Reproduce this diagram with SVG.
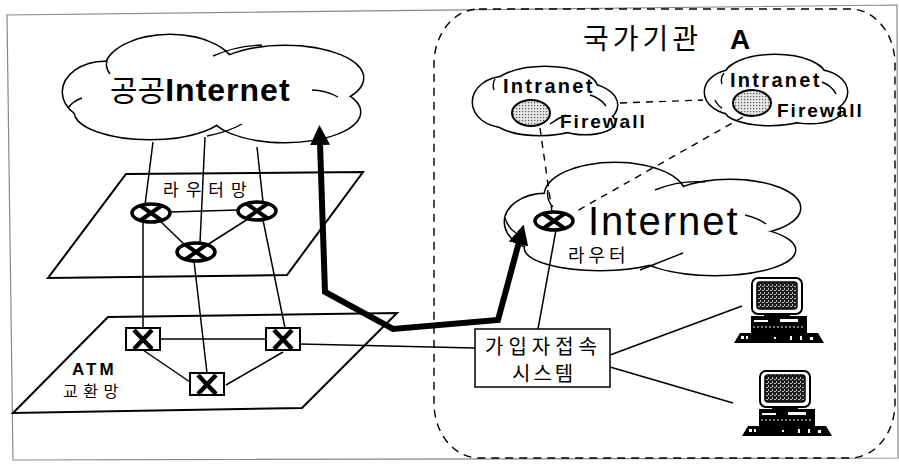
<svg xmlns="http://www.w3.org/2000/svg" width="899" height="466" viewBox="0 0 899 466">
<style>
.ln{stroke:#000;stroke-width:1.5;fill:none}
.dash{stroke:#000;stroke-width:1.4;fill:none;stroke-dasharray:7 6}
.plane{fill:none;stroke:#000;stroke-width:2}
.co{fill:#fff;stroke:#000;stroke-width:3}
.cf{fill:#fff;stroke:none}
.ci{fill:none;stroke:#000;stroke-width:1.4}
.kr{font-family:"Noto Sans CJK KR","Noto Sans CJK SC",sans-serif;fill:#000}
.lat{font-family:"Liberation Sans",Arial,sans-serif;font-weight:bold;fill:#000}
.fw{fill:url(#stip);stroke:#000;stroke-width:2}
</style>
<defs>
  <pattern id="stip" width="3" height="3" patternUnits="userSpaceOnUse">
    <rect width="3" height="3" fill="#e6e6e6"/>
    <rect width="1.2" height="1.2" fill="#555"/>
  </pattern>
  <pattern id="scr" width="4" height="4" patternUnits="userSpaceOnUse">
    <rect width="4" height="4" fill="#1c1c1c"/>
    <rect x="0" y="0" width="2" height="1" fill="#bbb"/>
    <rect x="2" y="2" width="1" height="2" fill="#bbb"/>
  </pattern>
  <marker id="ah" viewBox="0 0 20 20" markerUnits="userSpaceOnUse" markerWidth="20" markerHeight="20" refX="2" refY="10" orient="auto-start-reverse">
    <path d="M0,0 L20,10 L0,20 z" fill="#000"/>
  </marker>
  <g id="router">
    <ellipse rx="19" ry="9" fill="#fff" stroke="#000" stroke-width="3.5"/>
    <path d="M-10,-7 L10,7 M-10,7 L10,-7" stroke="#000" stroke-width="4"/>
  </g>
  <g id="switch">
    <rect x="-17" y="-11" width="34" height="22" fill="#fff" stroke="#000" stroke-width="2"/>
    <path d="M-9,-9 L9,10 M9,-9 L-9,10" stroke="#000" stroke-width="4.5"/>
  </g>
  <g id="pc">
    <rect x="18" y="0" width="50" height="36" rx="6" fill="#fff" stroke="#000" stroke-width="2"/>
    <rect x="23" y="4" width="40" height="27" rx="3" fill="url(#scr)" stroke="#000" stroke-width="1.5"/>
    <rect x="30" y="36" width="26" height="3" fill="#000"/>
    <rect x="17" y="38" width="56" height="17" fill="#000"/>
    <rect x="20" y="42" width="14" height="2" fill="#fff"/>
    <rect x="46" y="41" width="18" height="3" fill="#fff"/>
    <line x1="19" y1="49" x2="71" y2="49" stroke="#fff" stroke-width="1" stroke-dasharray="2 2"/>
    <polygon points="0,65 6,55 84,55 90,65" fill="#000"/>
    <g fill="#fff">
      <rect x="7" y="58" width="3" height="3"/>
      <rect x="12" y="58" width="2" height="3"/>
      <rect x="40" y="59" width="2" height="2"/>
      <rect x="56" y="58" width="2" height="4"/>
      <rect x="66" y="58" width="2" height="4"/>
      <rect x="76" y="59" width="3" height="3"/>
    </g>
  </g>
</defs>

<!-- page frame -->
<polygon points="7,15 897,5 898,458 13,460" fill="#fff" stroke="#888" stroke-width="1.2"/>

<!-- agency boundary -->
<g id="agency">
  <rect x="434" y="9" width="461" height="449" rx="45" ry="55" fill="none" stroke="#000" stroke-width="1.4" stroke-dasharray="8 6"/>
  <text class="kr" x="583" y="49" font-size="28" letter-spacing="4">국가기관</text>
  <text class="lat" x="730" y="49" font-size="28">A</text>
</g>

<!-- router plane -->
<g id="router-plane">
  <polygon class="plane" points="126,174 363,172 287,275 48,278"/>
  <text class="kr" x="163" y="196" font-size="17" letter-spacing="7">라우터망</text>
</g>

<!-- ATM plane -->
<g id="atm-plane">
  <polygon class="plane" points="108,317 397,313 302,408 13,413"/>
  <text class="lat" x="72" y="375" font-size="17" letter-spacing="3">ATM</text>
  <text class="kr" x="63" y="397" font-size="16" letter-spacing="5.5">교환망</text>
</g>

<!-- public internet cloud -->
<g id="public-internet">
  <g class="co">
    <ellipse cx="105" cy="92" rx="42" ry="30"/>
    <ellipse cx="170" cy="70" rx="65" ry="35"/>
    <ellipse cx="285" cy="78" rx="78" ry="32"/>
    <ellipse cx="150" cy="112" rx="75" ry="27"/>
    <ellipse cx="285" cy="112" rx="75" ry="30"/>
  </g>
  <g class="cf">
    <ellipse cx="105" cy="92" rx="42" ry="30"/>
    <ellipse cx="170" cy="70" rx="65" ry="35"/>
    <ellipse cx="285" cy="78" rx="78" ry="32"/>
    <ellipse cx="150" cy="112" rx="75" ry="27"/>
    <ellipse cx="285" cy="112" rx="75" ry="30"/>
    <ellipse cx="215" cy="92" rx="120" ry="30"/>
  </g>
  <path class="ci" d="M108,58 Q104,66 110,74 M213,56 Q235,46 262,45 M312,90 Q325,90 338,97 M207,136 Q228,132 242,124 M68,108 Q73,101 82,98"/>
  <text x="110" y="101"><tspan class="kr" font-size="30">공공</tspan><tspan class="lat" font-size="32" letter-spacing="1">Internet</tspan></text>
</g>

<!-- intranet 1 -->
<g id="intranet-1">
  <g class="co">
    <ellipse cx="505" cy="102" rx="32" ry="25"/>
    <ellipse cx="545" cy="88" rx="52" ry="21"/>
    <ellipse cx="580" cy="105" rx="37" ry="22"/>
    <ellipse cx="540" cy="120" rx="45" ry="15"/>
    <ellipse cx="585" cy="122" rx="30" ry="12"/>
  </g>
  <g class="cf">
    <ellipse cx="505" cy="102" rx="32" ry="25"/>
    <ellipse cx="545" cy="88" rx="52" ry="21"/>
    <ellipse cx="580" cy="105" rx="37" ry="22"/>
    <ellipse cx="540" cy="120" rx="45" ry="15"/>
    <ellipse cx="585" cy="122" rx="30" ry="12"/>
    <ellipse cx="545" cy="105" rx="50" ry="18"/>
  </g>
  <path class="ci" d="M495,79 Q492,84 494,90 M590,95 Q600,98 606,106 M550,124 Q558,118 566,115"/>
  <ellipse class="fw" cx="531" cy="113" rx="19" ry="13"/>
  <text class="lat" x="503" y="93" font-size="20" letter-spacing="2.3">Intranet</text>
  <text class="lat" x="560" y="128" font-size="19" letter-spacing="2">Firewall</text>
</g>

<!-- intranet 2 -->
<g id="intranet-2">
  <g class="co">
    <ellipse cx="735" cy="92" rx="30" ry="22"/>
    <ellipse cx="775" cy="76" rx="50" ry="21"/>
    <ellipse cx="815" cy="92" rx="32" ry="22"/>
    <ellipse cx="770" cy="110" rx="45" ry="15"/>
    <ellipse cx="810" cy="112" rx="30" ry="11"/>
  </g>
  <g class="cf">
    <ellipse cx="735" cy="92" rx="30" ry="22"/>
    <ellipse cx="775" cy="76" rx="50" ry="21"/>
    <ellipse cx="815" cy="92" rx="32" ry="22"/>
    <ellipse cx="770" cy="110" rx="45" ry="15"/>
    <ellipse cx="810" cy="112" rx="30" ry="11"/>
    <ellipse cx="775" cy="94" rx="48" ry="18"/>
  </g>
  <path class="ci" d="M724,73 Q720,78 722,84 M822,82 Q832,86 836,94 M715,100 Q718,106 722,108"/>
  <ellipse class="fw" cx="752" cy="103" rx="19" ry="13"/>
  <text class="lat" x="730" y="87" font-size="20" letter-spacing="2.3">Intranet</text>
  <text class="lat" x="777" y="117" font-size="19" letter-spacing="2">Firewall</text>
</g>

<!-- agency internet cloud -->
<g id="agency-internet">
  <g class="co">
    <ellipse cx="545" cy="222" rx="40" ry="28"/>
    <ellipse cx="615" cy="195" rx="70" ry="32"/>
    <ellipse cx="730" cy="208" rx="70" ry="28"/>
    <ellipse cx="600" cy="248" rx="75" ry="22"/>
    <ellipse cx="715" cy="250" rx="80" ry="25"/>
  </g>
  <g class="cf">
    <ellipse cx="545" cy="222" rx="40" ry="28"/>
    <ellipse cx="615" cy="195" rx="70" ry="32"/>
    <ellipse cx="730" cy="208" rx="70" ry="28"/>
    <ellipse cx="600" cy="248" rx="75" ry="22"/>
    <ellipse cx="715" cy="250" rx="80" ry="25"/>
    <ellipse cx="650" cy="225" rx="110" ry="28"/>
  </g>
  <path class="ci" d="M548,190 Q546,200 553,207 M655,190 Q680,180 705,182 M683,253 Q660,262 640,270 M505,218 Q508,228 516,233 M745,215 Q758,218 766,224"/>
  <text x="588" y="235" font-family="Liberation Sans,Arial,sans-serif" font-size="40" letter-spacing="2">Internet</text>
  <text class="kr" x="568" y="262" font-size="18" letter-spacing="4">라우터</text>
</g>

<!-- connectors -->
<g id="connectors">
  <path class="ln" d="M153,142 L145,205 M143,222 L143,328"/>
  <path class="ln" d="M205,137 L200,243 M194,261 L207,373"/>
  <path class="ln" d="M257,147 L263,202 M263,220 L285,328"/>
  <path class="ln" d="M170,212 L238,210 M160,221 L185,245 M248,219 L207,245"/>
  <path class="ln" d="M160,339 L266,339 M143,350 L190,382 M283,352 L226,385"/>
  <path class="ln" d="M300,344 L475,348"/>
  <path class="ln" d="M556,230 L538,329"/>
  <path class="ln" d="M610,355 L742,306 M610,367 L733,403" stroke-width="2"/>
  <path class="dash" d="M620,103 L703,100"/>
  <path class="dash" d="M540,128 L552,212"/>
  <path class="dash" d="M743,117 L575,212"/>
  <path d="M320,143 L325,292 L393,329 L498,320 L519,242" fill="none" stroke="#000" stroke-width="6" stroke-linejoin="miter" marker-start="url(#ah)" marker-end="url(#ah)"/>
</g>

<!-- routers -->
<use id="r1" href="#router" x="151" y="213"/>
<use id="r2" href="#router" x="257" y="211"/>
<use id="r3" href="#router" x="196" y="252"/>
<use id="r4" href="#router" x="554" y="221"/>

<!-- ATM switches -->
<use id="s1" href="#switch" x="143" y="339"/>
<use id="s2" href="#switch" x="283" y="339"/>
<use id="s3" href="#switch" x="207" y="384"/>

<!-- subscriber access system -->
<g id="access-system">
  <rect x="475" y="329" width="135" height="58" fill="#fff" stroke="#000" stroke-width="1.5"/>
  <text class="kr" x="485" y="354" font-size="20" letter-spacing="5">가입자접속</text>
  <text class="kr" x="512" y="381" font-size="20" letter-spacing="3">시스템</text>
</g>

<!-- terminals -->
<use id="pc1" href="#pc" x="734" y="278"/>
<use id="pc2" href="#pc" x="742" y="371"/>
</svg>
